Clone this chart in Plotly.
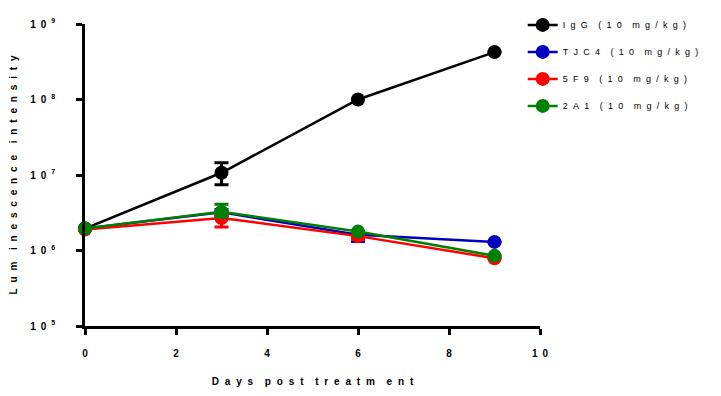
import plotly.graph_objects as go

SP = "\u2002"   # en space
HAIR = "\u200a"  # hair space

def spaced(s, gap, wgap):
    words = s.split(" ")
    return wgap.join(gap.join(w) for w in words)

days = [0, 3, 6, 9]
series_names = ["IgG (10 mg/kg)", "TJC4 (10 mg/kg)", "5F9 (10 mg/kg)", "2A1 (10 mg/kg)"]
colors = ["#000000", "#0000C0", "#FF0000", "#008000"]
igg = [1.95e6, 1.07e7, 1.0e8, 4.25e8]
igg_err_plus = [0, 0.38e7, 0, 0]
igg_err_minus = [0, 0.33e7, 0, 0]
tjc4 = [1.95e6, 3.2e6, 1.62e6, 1.3e6]
tjc4_err_plus = [0, 0.3e6, 0, 0]
tjc4_err_minus = [0, 0.3e6, 0.3e6, 0]
f59 = [1.9e6, 2.7e6, 1.55e6, 7.9e5]
f59_err_plus = [0, 0.3e6, 0, 0]
f59_err_minus = [0, 0.65e6, 0.15e6, 0]
a21 = [1.95e6, 3.25e6, 1.78e6, 8.5e5]
a21_err_plus = [0, 0.85e6, 0, 0]
a21_err_minus = [0, 0.5e6, 0, 0]

ytick_vals = [1e5, 1e6, 1e7, 1e8, 1e9]
ytick_exps = ["5", "6", "7", "8", "9"]
xtick_vals = [0, 2, 4, 6, 8, 10]
xtick_labels = ["0", "2", "4", "6", "8", "10"]
x_title = "Days post treatm ent"
y_title = "Lum inescence intensity"

ytick_text = [f"<b>1{SP}0</b>{SP}<sup><b>{e}</b></sup>" for e in ytick_exps]
xtick_text = [f"<b>{SP.join(t)}</b>" for t in xtick_labels]

legend_gap = SP + HAIR
title_gap = SP + HAIR

data = [(igg, igg_err_plus, igg_err_minus), (tjc4, tjc4_err_plus, tjc4_err_minus),
        (f59, f59_err_plus, f59_err_minus), (a21, a21_err_plus, a21_err_minus)]

fig = go.Figure()
for i, (vals, ep, em) in enumerate(data):
    fig.add_trace(go.Scatter(
        x=days, y=vals, name=spaced(series_names[i], legend_gap, legend_gap * 2),
        mode="lines+markers", legendgroup=str(i),
        line=dict(color=colors[i], width=2.5),
        marker=dict(color=colors[i], size=14),
        error_y=dict(type="data", symmetric=False, array=ep, arrayminus=em,
                     color=colors[i], thickness=3, width=7),
        cliponaxis=False,
    ))

fig.update_layout(
    width=721, height=396,
    margin=dict(l=77, r=189, t=16, b=78, autoexpand=False),
    paper_bgcolor="white", plot_bgcolor="white",
    font=dict(family="Liberation Sans, Arial, sans-serif", size=10, color="#000000"),
    showlegend=True,
    legend=dict(x=0.962, y=1.045, xanchor="left", yanchor="top",
                font=dict(size=9), tracegroupgap=8, itemwidth=30,
                bgcolor="rgba(0,0,0,0)"),
    xaxis=dict(range=[0, 10], tickvals=xtick_vals, ticktext=xtick_text,
               showgrid=False, zeroline=False, showline=True, linecolor="black",
               linewidth=2.5, ticks="outside", ticklen=6, tickwidth=2.5,
               tickcolor="black", tickfont=dict(size=10), ticklabelstandoff=10,
               title=dict(text="<b>" + spaced(x_title, title_gap, title_gap * 2) + "</b>",
                          font=dict(size=10), standoff=21)),
    yaxis=dict(type="log", range=[5, 9], tickvals=ytick_vals, ticktext=ytick_text,
               showgrid=False, zeroline=False, showline=True, linecolor="black",
               linewidth=2.5, ticks="outside", ticklen=6, tickwidth=2.5,
               tickcolor="black", tickfont=dict(size=10), ticklabelstandoff=19,
               title=dict(text="<b>" + spaced(y_title, title_gap, title_gap * 2) + "</b>",
                          font=dict(size=10), standoff=12)),
)

fig.write_html("out.html")
